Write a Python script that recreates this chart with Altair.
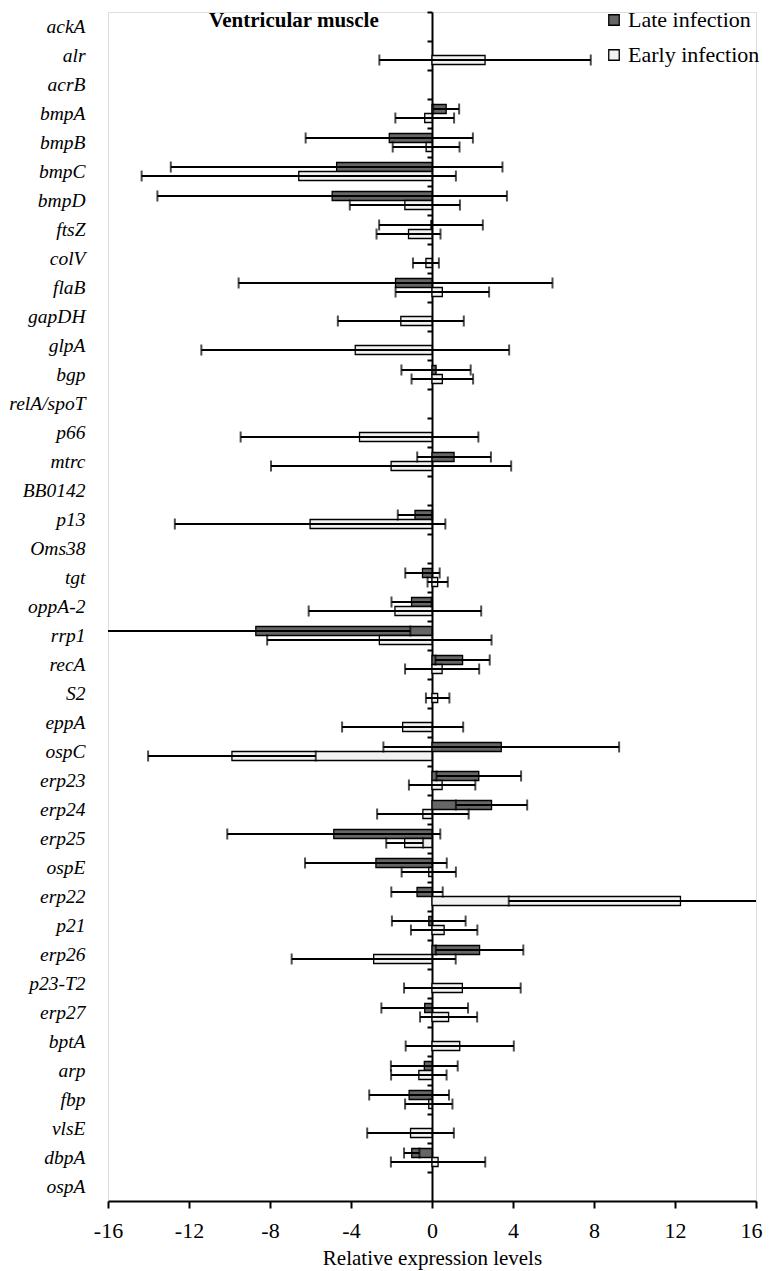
import altair as alt
import pandas as pd

FONT = "Liberation Serif"

genes = ["ackA", "alr", "acrB", "bmpA", "bmpB", "bmpC", "bmpD", "ftsZ", "colV", "flaB",
         "gapDH", "glpA", "bgp", "relA/spoT", "p66", "mtrc", "BB0142", "p13", "Oms38", "tgt",
         "oppA-2", "rrp1", "recA", "S2", "eppA", "ospC", "erp23", "erp24", "erp25", "ospE",
         "erp22", "p21", "erp26", "p23-T2", "erp27", "bptA", "arp", "fbp", "vlsE", "dbpA", "ospA"]

late_mean = [None, None, None, 0.70, -2.11, -4.71, -4.93, -0.05, None, -1.80,
             None, None, 0.20, None, None, 1.09, None, -0.84, None, -0.47,
             -1.01, -8.70, 1.51, None, None, 3.42, 2.31, 2.94, -4.85, -2.77,
             -0.74, -0.16, 2.35, None, -0.36, None, -0.38, -1.13, None, -1.00, None]
late_sd = [None, None, None, 0.64, 4.13, 8.19, 8.63, 2.56, None, 7.75,
           None, None, 1.71, None, None, 1.82, None, 0.85, None, 0.85,
           0.99, 7.63, 1.34, None, None, 5.82, 2.09, 1.76, 5.26, 3.50,
           1.27, 1.82, 2.16, None, 2.14, None, 1.65, 1.97, None, 0.38, None]
early_mean = [None, 2.62, None, -0.36, -0.29, -6.58, -1.34, -1.16, -0.30, 0.51,
              -1.54, -3.79, 0.51, None, -3.58, -2.02, None, -6.02, None, 0.28,
              -1.83, -2.60, 0.50, 0.28, -1.45, -9.88, 0.50, -0.45, -1.35, -0.16,
              12.27, 0.60, -2.88, 1.50, 0.82, 1.37, -0.65, -0.16, -1.06, 0.30, None]
early_sd = [None, 5.22, None, 1.45, 1.65, 7.76, 2.72, 1.58, 0.64, 2.31,
            3.11, 7.60, 1.52, None, 5.87, 5.93, None, 6.68, None, 0.50,
            4.26, 5.54, 1.83, 0.58, 2.99, 4.14, 1.64, 2.26, 0.91, 1.34,
            8.48, 1.64, 4.05, 2.88, 1.41, 2.67, 1.37, 1.17, 2.14, 2.33, None]

series = ["Late infection", "Early infection"]
colors = ["#666666", "#f2f2f2"]
x_ticks = [-16, -12, -8, -4, 0, 4, 8, 12, 16]
chart_title = "Ventricular muscle"

rows = []
for name, means, sds in [(series[0], late_mean, late_sd), (series[1], early_mean, early_sd)]:
    for g, m, s in zip(genes, means, sds):
        if m is None:
            continue
        rows.append({"gene": g, "series": name, "mean": m, "lo": m - s, "hi": m + s})
df = pd.DataFrame(rows)

W, H = 648, 1189

xscale = alt.Scale(domain=[-16, 16], nice=False, zero=False)
yscale = alt.Scale(domain=genes, paddingInner=0, paddingOuter=0)
offscale = alt.Scale(domain=series, paddingInner=0, paddingOuter=0.61)

xaxis = alt.Axis(values=x_ticks, title="Relative expression levels", grid=False,
                 domainColor="black", domainWidth=2, tickColor="black", tickWidth=2,
                 tickSize=7, labelFont=FONT, labelFontSize=22, labelColor="black",
                 labelPadding=12, labelFlush=False, labelExpr="'' + datum.value",
                 labelOffset={"condition": {"test": "datum.value == 16", "value": -5}, "value": 0},
                 titleFont=FONT, titleFontSize=21, titleFontWeight="normal",
                 titleColor="black", titlePadding=6)

axis_mid = alt.Axis(orient="left", offset=-W / 2, labels=False, title=None,
                    domain=True, domainColor="black", domainWidth=2,
                    ticks=True, tickColor="black", tickWidth=2, tickSize=5,
                    bandPosition=0, grid=False)

axis_lab = alt.Axis(orient="left", title=None, domain=False, ticks=False, tickSize=0,
                    labelFont=FONT, labelFontStyle="italic", labelFontSize=19.5,
                    labelColor="black", labelPadding=23, grid=False)

base = alt.Chart(df)

bars = base.mark_bar(stroke="black", strokeWidth=1.3, clip=True).encode(
    y=alt.Y("gene:N", scale=yscale, axis=axis_mid),
    yOffset=alt.YOffset("series:N", scale=offscale),
    x=alt.X("mean:Q", scale=xscale, axis=xaxis),
    color=alt.Color("series:N", scale=alt.Scale(domain=series, range=colors),
                    legend=alt.Legend(title=None, orient="none", legendX=495, legendY=-3,
                                      symbolType="square", symbolSize=110,
                                      symbolStrokeColor="black", symbolStrokeWidth=1.3,
                                      labelFont=FONT, labelFontSize=22, labelColor="black",
                                      rowPadding=13, labelOffset=3, padding=0)),
)

rules = base.mark_rule(color="black", strokeWidth=2, clip=True).encode(
    y=alt.Y("gene:N", scale=yscale, axis=axis_lab),
    yOffset=alt.YOffset("series:N", scale=offscale),
    x=alt.X("lo:Q", scale=xscale, axis=xaxis),
    x2="hi:Q",
)

caps = base.transform_fold(["lo", "hi"], as_=["end", "val"]).mark_tick(
    color="black", thickness=2, size=11, clip=True
).encode(
    y=alt.Y("gene:N", scale=yscale, axis=None),
    yOffset=alt.YOffset("series:N", scale=offscale),
    x=alt.X("val:Q", scale=xscale, axis=xaxis),
)

title_text = alt.Chart(pd.DataFrame({"t": [chart_title]})).mark_text(
    align="left", baseline="alphabetic", font=FONT, fontSize=21, fontWeight="bold",
    color="black"
).encode(text="t:N", x=alt.value(101), y=alt.value(15))

chart = alt.layer(bars, rules, caps, title_text).resolve_axis(y="independent").properties(
    width=W, height=H,
    autosize=alt.AutoSizeParams(type="none"),
    padding={"left": 100, "top": 4, "right": 7, "bottom": 69},
).configure_view(stroke=None).configure(background="white")

chart.save("out.html", embed_options={"renderer": "svg", "actions": False})
